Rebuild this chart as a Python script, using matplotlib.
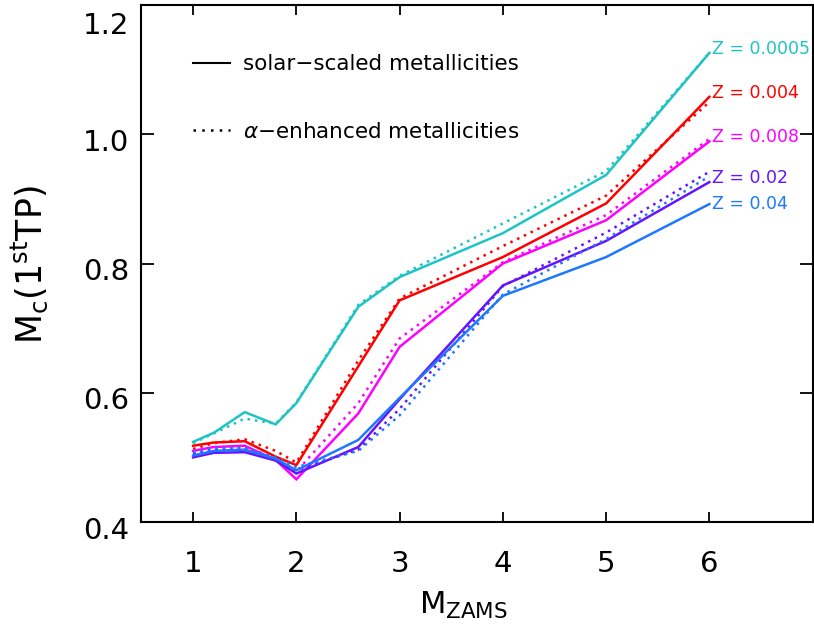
import matplotlib
matplotlib.use("Agg")
import matplotlib.pyplot as plt
import matplotlib.transforms as mtransforms
from matplotlib.lines import Line2D

# ---- data ----
m_zams = [1.0, 1.2, 1.5, 1.8, 2.0, 2.6, 3.0, 4.0, 5.0, 6.0]

z_labels = ["Z = 0.0005", "Z = 0.004", "Z = 0.008", "Z = 0.02", "Z = 0.04"]
z_colors = ["#1ec4c4", "#ff0000", "#ff00ff", "#6414ff", "#1e78ff"]

solar_0005 = [0.524, 0.538, 0.570, 0.551, 0.584, 0.733, 0.779, 0.847, 0.937, 1.126]
solar_004 = [0.518, 0.523, 0.525, 0.501, 0.488, 0.641, 0.743, 0.810, 0.893, 1.058]
solar_008 = [0.510, 0.516, 0.518, 0.496, 0.466, 0.568, 0.671, 0.800, 0.867, 0.989]
solar_02 = [0.500, 0.507, 0.508, 0.495, 0.475, 0.516, 0.590, 0.766, 0.835, 0.926]
solar_04 = [0.503, 0.510, 0.512, 0.498, 0.480, 0.527, 0.592, 0.750, 0.810, 0.892]

alpha_0005 = [0.522, 0.537, 0.560, 0.552, 0.585, 0.736, 0.781, 0.862, 0.943, 1.126]
alpha_004 = [0.513, 0.522, 0.528, 0.510, 0.492, 0.650, 0.746, 0.827, 0.905, 1.050]
alpha_008 = [0.507, 0.513, 0.516, 0.498, 0.478, 0.584, 0.684, 0.802, 0.875, 0.993]
alpha_02 = [0.505, 0.511, 0.512, 0.496, 0.480, 0.512, 0.575, 0.765, 0.848, 0.942]
alpha_04 = [0.508, 0.514, 0.515, 0.500, 0.485, 0.510, 0.565, 0.752, 0.838, 0.935]

solar = [solar_0005, solar_004, solar_008, solar_02, solar_04]
alpha = [alpha_0005, alpha_004, alpha_008, alpha_02, alpha_04]

x_ticks = [1, 2, 3, 4, 5, 6]
y_ticks = [0.4, 0.6, 0.8, 1.0, 1.2]
y_ticklabels = ["0.4", "0.6", "0.8", "1.0", "1.2"]

# label vertical nudges (points)
label_dy = [3, 3, 3, 3, 0]

# ---- figure ----
plt.rcParams["font.family"] = ["DejaVu Sans"]
fig = plt.figure(figsize=(8.14, 6.35), dpi=100)
ax = fig.add_axes([0.1738, 0.178, 0.8245, 0.814])

for sol, alp, col in zip(solar, alpha, z_colors):
    ax.plot(m_zams, alp, color=col, lw=1.8, linestyle=(0, (1, 2.0)))
    ax.plot(m_zams, sol, color=col, lw=1.8, solid_joinstyle="miter")

for sol, lab, col, dy in zip(solar, z_labels, z_colors, label_dy):
    ax.annotate(lab, xy=(m_zams[-1], sol[-1]), xytext=(2, dy),
                textcoords="offset points", ha="left", va="center",
                color=col, fontsize=12.5)

ax.set_xlim(0.5, 7.0)
ax.set_ylim(0.4, 1.2)
ax.set_xticks(x_ticks)
ax.set_xticklabels([str(t) for t in x_ticks])
ax.set_yticks(y_ticks)
ax.set_yticklabels(y_ticklabels)

ax.tick_params(axis="x", direction="in", length=7.5, width=1.3, top=True,
               labelsize=21, pad=20)
ax.tick_params(axis="y", direction="in", length=9.7, width=1.3, right=True,
               labelsize=21, pad=9)
for s in ax.spines.values():
    s.set_linewidth(1.5)

# shift y tick labels slightly down, keep top label inside the figure
offset = mtransforms.ScaledTranslation(0, -4 / 72, fig.dpi_scale_trans)
ylabels = ax.get_yticklabels()
for lbl in ylabels:
    lbl.set_transform(lbl.get_transform() + offset)
ylabels[-1].set_verticalalignment("top")
ylabels[-1].set_transform(ylabels[-1].get_transform() +
                          mtransforms.ScaledTranslation(0, -1 / 72, fig.dpi_scale_trans))

ax.set_xlabel("M$_{\\mathrm{ZAMS}}$", fontsize=22)
ax.xaxis.set_label_coords(0.479, -0.132)
ax.set_ylabel("M$_{\\mathrm{c}}$(1$^{\\mathrm{st}}$TP)", fontsize=25)
ax.yaxis.set_label_coords(-0.137, 0.497)

handles = [Line2D([], [], color="black", lw=1.5),
           Line2D([], [], color="black", lw=1.8, linestyle=(0, (1, 2.5)))]
labels = ["solar\u2212scaled metallicities", "$\\alpha$\u2212enhanced metallicities"]
ax.legend(handles, labels, loc="upper left", bbox_to_anchor=(0.0768, 0.905),
          frameon=False, fontsize=15.5, borderpad=0, borderaxespad=0,
          handlelength=1.72, handletextpad=0.6, labelspacing=2.2)

fig.savefig("out.png", dpi=100)
